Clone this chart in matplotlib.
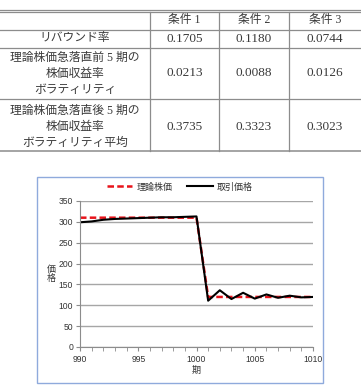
import matplotlib
matplotlib.use("Agg")
import matplotlib.pyplot as plt
from matplotlib import patches

plt.rcParams['font.family'] = ['Liberation Sans', 'Noto Sans CJK JP']

# table contents
col_labels = ['', '条件 1', '条件 2', '条件 3']
row_labels = ['リバウンド率',
              '理論株価急落直前 5 期の\n株価収益率\nボラティリティ',
              '理論株価急落直後 5 期の\n株価収益率\nボラティリティ平均']
cond1 = ['0.1705', '0.0213', '0.3735']
cond2 = ['0.1180', '0.0088', '0.3323']
cond3 = ['0.0744', '0.0126', '0.3023']

# chart data
periods = list(range(990, 1011))
theory = [310] * 11 + [120] * 10
trade = [299, 301, 305, 307, 308, 309, 310, 311, 311, 312, 313,
         111, 136, 115, 130, 116, 126, 118, 123, 119, 120]
yticks = [0, 50, 100, 150, 200, 250, 300, 350]
xticks = [990, 995, 1000, 1005, 1010]

W, H = 361, 388
fig = plt.figure(figsize=(W / 100, H / 100), dpi=100)

# ---- table, drawn in pixel coords ----
tab = fig.add_axes([0, 0, 1, 1])
tab.set_xlim(0, W)
tab.set_ylim(H, 0)
tab.axis('off')

lc = '#8c8c8c'
tc = '#3a3a3a'
tfont = ['Liberation Serif', 'Noto Sans CJK JP']
for y in [9.5, 11.5]:
    tab.plot([0, W], [y, y], color=lc, lw=0.9)
for y in [29.5, 48, 99]:
    tab.plot([0, W], [y, y], color=lc, lw=0.9)
tab.plot([0, W], [151, 151], color=lc, lw=1.1)
for x in [150, 219, 289]:
    tab.plot([x, x], [11.5, 151], color=lc, lw=0.9)

col_x = [75, 184.5, 254, 325]
row_y = [20, 38.5, 73.5, 127]
for cx, lab in zip(col_x, col_labels):
    tab.text(cx, row_y[0], lab, ha='center', va='center', fontsize=8.5,
             color=tc, family=tfont)
for i, lab in enumerate(row_labels):
    ry = row_y[i + 1]
    tab.text(col_x[0], ry, lab, ha='center', va='center', fontsize=8.5,
             color=tc, family=tfont, linespacing=1.45)
    for cx, vals in zip(col_x[1:], [cond1, cond2, cond3]):
        tab.text(cx, ry, vals[i], ha='center', va='center', fontsize=9.5,
                 color=tc, family=tfont)

# ---- chart ----
fig.patches.append(patches.Rectangle((37 / W, 1 - 383 / H), 286 / W, 206 / H,
                                     transform=fig.transFigure, fill=False,
                                     edgecolor='#8faadc', lw=1))

ax = fig.add_axes([80 / W, 1 - 347 / H, 233 / W, 146 / H])
ax.plot(periods, theory, color='#e8141b', lw=1.8, dashes=(2.6, 1.3), label='理論株価')
ax.plot(periods, trade, color='black', lw=1.5, label='取引価格')

ax.set_xlim(990, 1010)
ax.set_ylim(0, 350)
ax.set_xticks(xticks)
ax.set_xticks(periods, minor=True)
ax.set_yticks(yticks)
ax.grid(axis='y', color='#a6a6a6', lw=1)
ax.set_axisbelow(True)
for s in ['top', 'right']:
    ax.spines[s].set_visible(False)
for s in ['left', 'bottom']:
    ax.spines[s].set_color('#8c8c8c')
ax.tick_params(which='both', length=3, color='#8c8c8c', labelsize=6.2,
               labelcolor='#333333', pad=2)
ax.tick_params(axis='x', pad=3)

ax.set_xlabel('期', fontsize=6.5, color='#333333', labelpad=1)
ax.set_ylabel('価\n格', fontsize=6.5, color='#333333', rotation=0,
              va='center', linespacing=1.0, labelpad=5)

fig.legend(loc='center', bbox_to_anchor=(180 / W, 1 - 187 / H), ncol=2,
           frameon=False, fontsize=6.5, handlelength=2.8, columnspacing=1.6,
           handletextpad=0.5, labelcolor='#333333')

fig.savefig('out.png', dpi=100)
